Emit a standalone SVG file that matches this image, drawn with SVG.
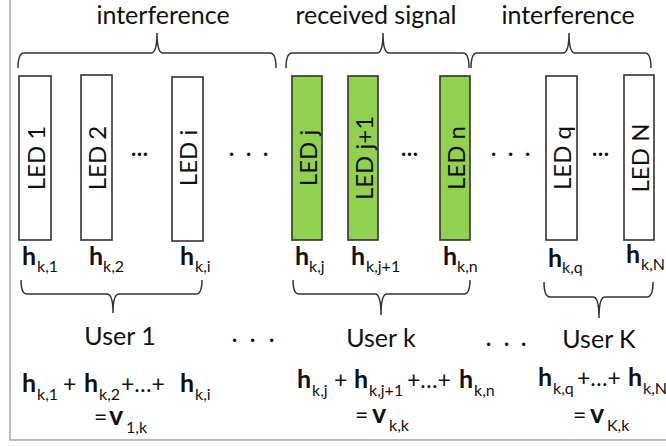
<svg xmlns="http://www.w3.org/2000/svg" width="666" height="446" viewBox="0 0 666 446">
<style>
text { font-family: Lato, "Liberation Sans", sans-serif; fill: #111; }
.lbl { font-size: 25px; }
.led { font-size: 24px; text-anchor: middle; dominant-baseline: central; }
.b { font-weight: bold; font-size: 25px; }
.v { font-weight: bold; font-size: 27px; }
.s { font-size: 16px; }
.m { font-size: 23px; }
.dots { font-size: 22px; font-weight: bold; }
.rect { stroke: #333; stroke-width: 1.6; fill: #fff; }
.on { fill: #92d050; }
.br { fill: none; stroke: #333; stroke-width: 1.5; }
.frame { fill: none; stroke: #a6a6a6; stroke-width: 1.5; }
</style>
<path class="frame" d="M10,0 V440 H666"/>
<g id="connectors">
  <path class="br" d="M18,68 Q18,53 24,53 H151 Q157,53 157,33 Q157,53 163,53 H270 Q276,53 276,68"/>
  <path class="br" d="M286,68 Q286,53 292,53 H377 Q383,53 383,33 Q383,53 389,53 H463 Q469,53 469,68"/>
  <path class="br" d="M471,68 Q471,53 477,53 H563 Q569,53 569,33 Q569,53 575,53 H645 Q651,53 651,68"/>
  <path class="br" d="M21,280 Q21,294 27,294 H107 Q113,294 113,313 Q113,294 119,294 H196 Q202,294 202,280"/>
  <path class="br" d="M293,280 Q293,294 299,294 H375 Q381,294 381,315 Q381,294 387,294 H464 Q470,294 470,280"/>
  <path class="br" d="M544,282 Q544,297 550,297 H593 Q599,297 599,318 Q599,297 605,297 H647 Q653,297 653,282"/>
</g>
<g id="label-interference-1"><text class="lbl" x="163" y="24" text-anchor="middle">interference</text></g>
<g id="label-received"><text class="lbl" x="376" y="24" text-anchor="middle">received signal</text></g>
<g id="label-interference-2"><text class="lbl" x="568" y="24" text-anchor="middle">interference</text></g>

<g id="led1"><rect class="rect" x="19" y="76" width="32" height="164"/><text class="led" transform="translate(35,158) rotate(-90)">LED 1</text></g>
<g id="led2"><rect class="rect" x="81" y="75" width="31" height="165"/><text class="led" transform="translate(96.5,158) rotate(-90)">LED 2</text></g>
<g id="ledi"><rect class="rect" x="172" y="77" width="31" height="164"/><text class="led" transform="translate(187.5,158) rotate(-90)">LED i</text></g>
<g id="ledj"><rect class="rect on" x="292" y="76" width="30" height="164"/><text class="led" transform="translate(307,158) rotate(-90)">LED j</text></g>
<g id="ledj1"><rect class="rect on" x="348" y="76" width="30" height="164"/><text class="led" transform="translate(363,158) rotate(-90)">LED j+1</text></g>
<g id="ledn"><rect class="rect on" x="440" y="76" width="30" height="164"/><text class="led" transform="translate(455,158) rotate(-90)">LED n</text></g>
<g id="ledq"><rect class="rect" x="546" y="76" width="31" height="164"/><text class="led" transform="translate(561.5,158) rotate(-90)">LED q</text></g>
<g id="ledN"><rect class="rect" x="624" y="75" width="30" height="165"/><text class="led" transform="translate(639,158) rotate(-90)">LED N</text></g>

<g id="dots-top">
  <text class="dots" x="131" y="156">…</text>
  <text class="dots" x="229 246 263" y="156">...</text>
  <text class="dots" x="401" y="156">…</text>
  <text class="dots" x="491 508 525" y="156">...</text>
  <text class="dots" x="592" y="156">…</text>
</g>

<g id="h-labels">
  <text><tspan class="b" x="22" y="265">h</tspan><tspan class="s" x="37" y="272">k,1</tspan></text>
  <text><tspan class="b" x="89" y="265">h</tspan><tspan class="s" x="103" y="272">k,2</tspan></text>
  <text><tspan class="b" x="180" y="265">h</tspan><tspan class="s" x="195" y="272">k,i</tspan></text>
  <text><tspan class="b" x="295" y="265">h</tspan><tspan class="s" x="309" y="272">k,j</tspan></text>
  <text><tspan class="b" x="351" y="265">h</tspan><tspan class="s" x="366" y="272">k,j+1</tspan></text>
  <text><tspan class="b" x="443" y="265">h</tspan><tspan class="s" x="457" y="272">k,n</tspan></text>
  <text><tspan class="b" x="548" y="267">h</tspan><tspan class="s" x="562" y="273">k,q</tspan></text>
  <text><tspan class="b" x="626" y="263">h</tspan><tspan class="s" x="641" y="270">k,N</tspan></text>
</g>

<g id="user1"><text class="lbl" x="120" y="345" text-anchor="middle">User 1</text></g>
<g id="userk"><text class="lbl" x="381" y="347" text-anchor="middle">User k</text></g>
<g id="userK"><text class="lbl" x="599" y="348" text-anchor="middle">User K</text></g>
<g id="dots-bottom">
  <text class="dots" x="232 250 269" y="342">...</text>
  <text class="dots" x="486 504 521" y="346">...</text>
</g>

<g id="sum1">
  <text><tspan class="b" x="22" y="392">h</tspan><tspan class="s" x="37" y="400">k,1</tspan><tspan class="m" x="63" y="392">+</tspan><tspan class="b" x="84" y="392">h</tspan><tspan class="s" x="99" y="400">k,2</tspan><tspan class="m" x="121" y="392">+…+</tspan><tspan class="b" x="180" y="392">h</tspan><tspan class="s" x="195" y="400">k,i</tspan></text>
  <text><tspan class="m" x="94" y="425">=</tspan><tspan class="v" x="109" y="425">v</tspan><tspan class="s" x="126" y="433">1,k</tspan></text>
</g>
<g id="sumk">
  <text><tspan class="b" x="297" y="388">h</tspan><tspan class="s" x="312" y="396">k,j</tspan><tspan class="m" x="334" y="388">+</tspan><tspan class="b" x="354" y="388">h</tspan><tspan class="s" x="369" y="396">k,j+1</tspan><tspan class="m" x="407" y="388">+…+</tspan><tspan class="b" x="459" y="388">h</tspan><tspan class="s" x="474" y="396">k,n</tspan></text>
  <text><tspan class="m" x="355" y="423">=</tspan><tspan class="v" x="372" y="423">v</tspan><tspan class="s" x="389" y="431">k,k</tspan></text>
</g>
<g id="sumK">
  <text><tspan class="b" x="538" y="386">h</tspan><tspan class="s" x="553" y="394">k,q</tspan><tspan class="m" x="577" y="386">+…+</tspan><tspan class="b" x="628" y="386">h</tspan><tspan class="s" x="643" y="394">k,N</tspan></text>
  <text><tspan class="m" x="573" y="423">=</tspan><tspan class="v" x="590" y="423">v</tspan><tspan class="s" x="607" y="431">K,k</tspan></text>
</g>
</svg>
